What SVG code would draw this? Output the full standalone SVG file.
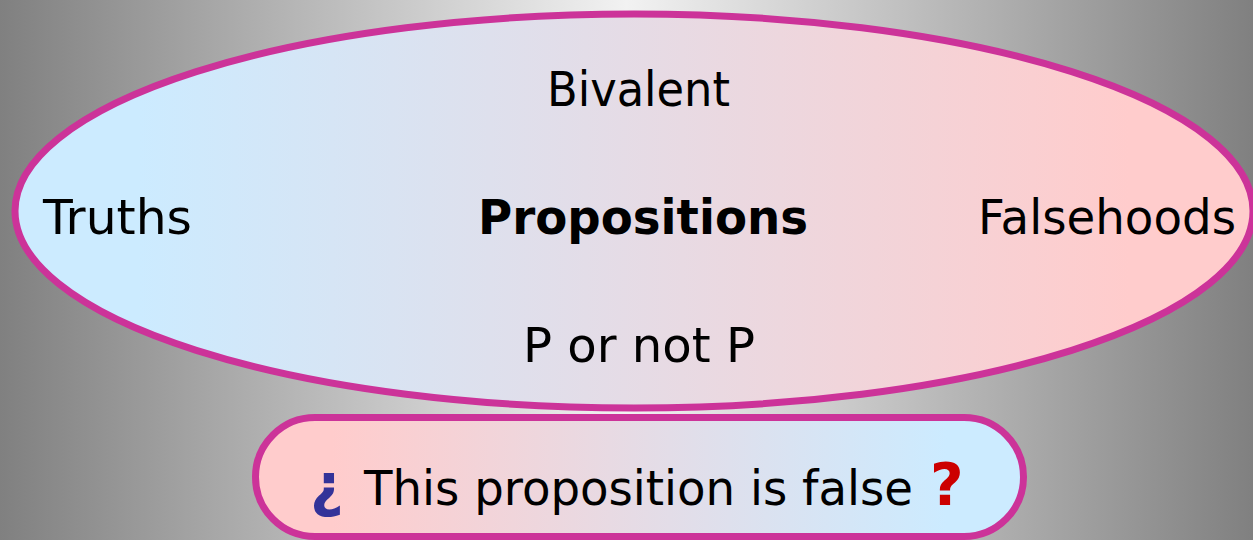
<svg xmlns="http://www.w3.org/2000/svg" width="1253" height="540" viewBox="0 0 1253 540">
<defs>
<linearGradient id="bg" x1="0" y1="0" x2="1" y2="0">
<stop offset="0" stop-color="#808080"/>
<stop offset="0.5" stop-color="#F2F2F2"/>
<stop offset="1" stop-color="#808080"/>
</linearGradient>
<linearGradient id="blueToPink" x1="0" y1="0" x2="1" y2="0">
<stop offset="0.1" stop-color="#CCEBFF"/>
<stop offset="0.9" stop-color="#FFCCCC"/>
</linearGradient>
<linearGradient id="pinkToBlue" x1="0" y1="0" x2="1" y2="0">
<stop offset="0.1" stop-color="#FFCCCC"/>
<stop offset="0.9" stop-color="#CCEBFF"/>
</linearGradient>
<style>
.shape { stroke: #CC3399; stroke-width: 7; }
.t { font-family: "DejaVu Sans", Verdana, sans-serif; font-size: 48px; fill: #000; }
.b { font-weight: bold; }
</style>
</defs>
<rect x="0" y="0" width="1253" height="540" fill="url(#bg)"/>
<g id="propositions">
<ellipse class="shape" cx="634" cy="211" rx="619" ry="197" fill="url(#blueToPink)"/>
<text class="t" x="547" y="106" textLength="183" lengthAdjust="spacingAndGlyphs">Bivalent</text>
<text class="t" x="43" y="234" textLength="149" lengthAdjust="spacingAndGlyphs">Truths</text>
<text class="t b" x="478" y="234" textLength="330" lengthAdjust="spacingAndGlyphs">Propositions</text>
<text class="t" x="978" y="234" textLength="258" lengthAdjust="spacingAndGlyphs">Falsehoods</text>
<text class="t" x="523" y="362" textLength="232" lengthAdjust="spacingAndGlyphs">P or not P</text>
</g>
<g id="liar">
<rect class="shape" x="255.5" y="417.5" width="768" height="119" rx="59.5" ry="59.5" fill="url(#pinkToBlue)"/>
<text class="t" y="505"><tspan x="310" fill="#333399" font-weight="bold" font-size="58">¿</tspan><tspan x="364" textLength="549" lengthAdjust="spacingAndGlyphs">This proposition is false</tspan><tspan x="930" fill="#CC0000" font-weight="bold" font-size="58">?</tspan></text>
</g>
<g id="connectors"/>
</svg>
